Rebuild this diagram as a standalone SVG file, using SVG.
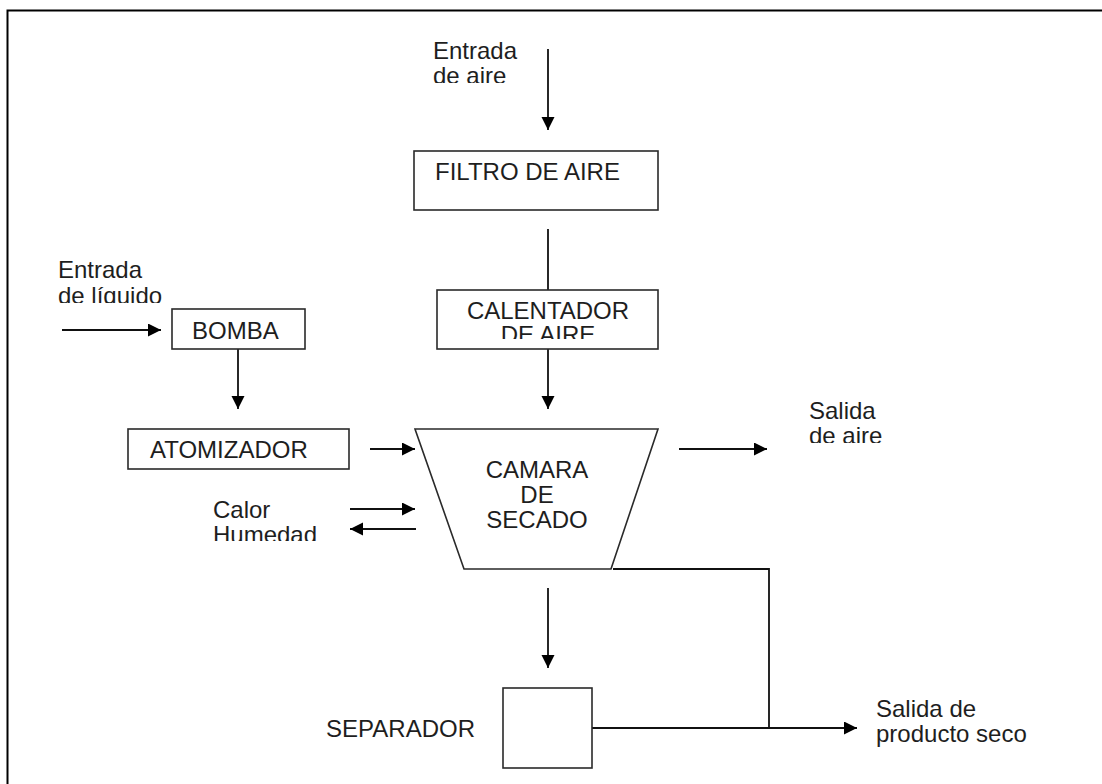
<svg xmlns="http://www.w3.org/2000/svg" width="1102" height="784" viewBox="0 0 1102 784">
  <style>
    text { font-family: "Liberation Sans", Arial, sans-serif; font-size: 24px; fill: #1e1e1e; }
    .box { fill: #ffffff; stroke: #2a2a2a; stroke-width: 1.6; }
    .wire { fill: none; stroke: #111111; stroke-width: 1.8; }
    .arrow { fill: none; stroke: #111111; stroke-width: 1.8; marker-end: url(#head); }
    .frame { fill: none; stroke: #000000; stroke-width: 2; }
  </style>
  <defs>
    <marker id="head" markerUnits="userSpaceOnUse" markerWidth="14" markerHeight="14" refX="13" refY="6.5" orient="auto">
      <path d="M0,0 L13,6.5 L0,13 Z" fill="#000000"/>
    </marker>
    <!-- second lines of the side labels are cut short at the bottom -->
    <clipPath id="clipAireIn"><rect x="420" y="30" width="110" height="53"/></clipPath>
    <clipPath id="clipLiquido"><rect x="50" y="255" width="140" height="48"/></clipPath>
    <clipPath id="clipCalentador"><rect x="438" y="291" width="219" height="48"/></clipPath>
    <clipPath id="clipCalor"><rect x="200" y="490" width="130" height="51"/></clipPath>
    <clipPath id="clipAireOut"><rect x="800" y="395" width="120" height="48"/></clipPath>
  </defs>

  <!-- page frame -->
  <path class="frame" d="M7.5,784 V10.5 H1102"/>

  <!-- connectors -->
  <g id="connectors">
    <line class="arrow" x1="548" y1="49" x2="548" y2="130"/>
    <line class="wire" x1="548" y1="229" x2="548" y2="290"/>
    <line class="arrow" x1="548" y1="349" x2="548" y2="409"/>
    <line class="arrow" x1="62" y1="330" x2="161" y2="330"/>
    <line class="arrow" x1="238" y1="349" x2="238" y2="409"/>
    <line class="arrow" x1="370" y1="449" x2="415" y2="449"/>
    <line class="arrow" x1="350" y1="509" x2="415" y2="509"/>
    <line class="arrow" x1="416" y1="529" x2="350" y2="529"/>
    <line class="arrow" x1="679" y1="449" x2="767" y2="449"/>
    <line class="arrow" x1="548" y1="588" x2="548" y2="668"/>
    <path class="wire" d="M613,569 H769 V728"/>
    <line class="arrow" x1="592" y1="728" x2="857" y2="728"/>
  </g>

  <!-- inputs and outputs -->
  <g id="entrada-aire" clip-path="url(#clipAireIn)">
    <text x="433" y="59">Entrada</text>
    <text x="433" y="84">de aire</text>
  </g>
  <g id="entrada-liquido" clip-path="url(#clipLiquido)">
    <text x="58" y="278">Entrada</text>
    <text x="58" y="304">de líquido</text>
  </g>
  <g id="calor-humedad" clip-path="url(#clipCalor)">
    <text x="213" y="518">Calor</text>
    <text x="213" y="543">Humedad</text>
  </g>
  <g id="salida-aire" clip-path="url(#clipAireOut)">
    <text x="809" y="419">Salida</text>
    <text x="809" y="444">de aire</text>
  </g>
  <g id="salida-producto">
    <text x="876" y="717">Salida de</text>
    <text x="876" y="742">producto seco</text>
  </g>

  <!-- process units -->
  <g id="filtro">
    <rect class="box" x="414" y="151" width="244" height="59"/>
    <text x="435" y="180">FILTRO DE AIRE</text>
  </g>
  <g id="calentador">
    <rect class="box" x="437" y="290" width="221" height="59"/>
    <g clip-path="url(#clipCalentador)">
      <text x="548" y="319" text-anchor="middle">CALENTADOR</text>
      <text x="548" y="343" text-anchor="middle">DE AIRE</text>
    </g>
  </g>
  <g id="bomba">
    <rect class="box" x="172" y="309" width="133" height="40"/>
    <text x="192" y="339">BOMBA</text>
  </g>
  <g id="atomizador">
    <rect class="box" x="128" y="429" width="221" height="40"/>
    <text x="150" y="458">ATOMIZADOR</text>
  </g>
  <g id="camara">
    <polygon class="box" points="415,429 658,429 611,569 464,569"/>
    <text x="537" y="478" text-anchor="middle">CAMARA</text>
    <text x="537" y="503" text-anchor="middle">DE</text>
    <text x="537" y="528" text-anchor="middle">SECADO</text>
  </g>
  <g id="separador">
    <rect class="box" x="503" y="688" width="89" height="80"/>
    <text x="475" y="737" text-anchor="end">SEPARADOR</text>
  </g>
</svg>
